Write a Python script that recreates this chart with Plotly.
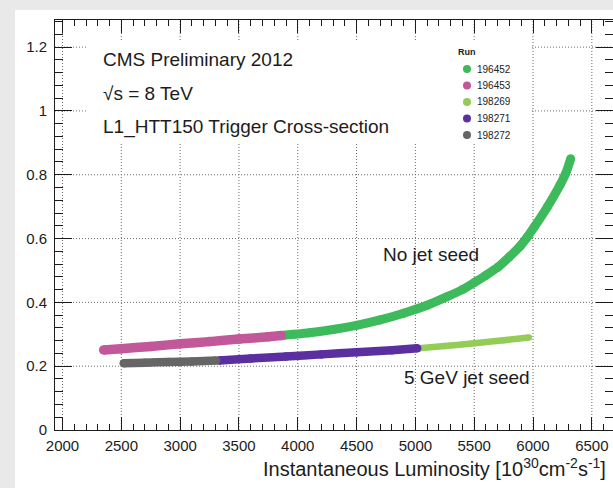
import plotly.graph_objects as go

# ---- trigger cross-section per run (instantaneous luminosity in 1e30 cm^-2 s^-1) ----
runs = ["196452", "196453", "198269", "198271", "198272"]
run_colors = ["#3dba5b", "#c2579a", "#94cc58", "#5b2f9f", "#666666"]

# No jet seed
lumi_196453 = [2350, 2500, 2750, 3000, 3250, 3500, 3750, 3860]
xsec_196453 = [0.251, 0.255, 0.262, 0.270, 0.277, 0.285, 0.292, 0.296]

lumi_196452 = [3880, 4100, 4300, 4500, 4700, 4900, 5100, 5270, 5400, 5500,
               5600, 5700, 5800, 5890, 5950, 6010, 6120, 6230, 6280, 6320]
xsec_196452 = [0.297, 0.305, 0.315, 0.328, 0.345, 0.366, 0.391, 0.418, 0.440, 0.462,
               0.485, 0.510, 0.543, 0.576, 0.604, 0.636, 0.698, 0.768, 0.806, 0.850]

# 5 GeV jet seed
lumi_198272 = [2520, 2700, 2900, 3100, 3305]
xsec_198272 = [0.209, 0.211, 0.213, 0.215, 0.218]

lumi_198271 = [3330, 3600, 3900, 4200, 4500, 4800, 5015]
xsec_198271 = [0.218, 0.224, 0.230, 0.237, 0.244, 0.250, 0.256]

lumi_198269 = [5030, 5250, 5500, 5750, 5965]
xsec_198269 = [0.256, 0.263, 0.272, 0.281, 0.290]

# major tick positions (labels and dotted grid)
x_ticks = [2000, 2500, 3000, 3500, 4000, 4500, 5000, 5500, 6000, 6500]
y_ticks = [0, 0.2, 0.4, 0.6, 0.8, 1.0, 1.2]

W, H = 613, 488
L, R, T, B = 55, 0, 20, 58
PW, PH = W - L - R, H - T - B
FONT = "Liberation Sans, Arial, Helvetica, sans-serif"
INK = "#1c1c1c"
GRID = "#6a6a6a"


def px(xpix):
    return (xpix - L) / PW


def py(ypix):
    return (T + PH - ypix) / PH


fig = go.Figure()

series = [
    # (run, x, y, width) -- right-hand pieces first so the left piece caps the joint
    ("196452", lumi_196452, xsec_196452, 9),
    ("198269", lumi_198269, xsec_198269, 6.5),
    ("196453", lumi_196453, xsec_196453, 9.5),
    ("198271", lumi_198271, xsec_198271, 8.5),
    ("198272", lumi_198272, xsec_198272, 8.5),
]
for run, xs, ys, w in series:
    c = run_colors[runs.index(run)]
    fig.add_trace(go.Scatter(
        x=xs, y=ys, mode="lines+markers", name=run, showlegend=False,
        line=dict(color=c, width=w, shape="spline", smoothing=0.5),
        marker=dict(color=c, size=w, line=dict(width=0)),
        hoverinfo="skip",
    ))

axis_common = dict(
    showline=True, linecolor=INK, linewidth=1, mirror="allticks",
    ticks="inside", tickcolor=INK, tickwidth=1,
    showgrid=False, zeroline=False,
    tickfont=dict(family=FONT, size=15, color=INK),
)

fig.update_xaxes(
    range=[1936, 6680], tickmode="array", tickvals=x_ticks, ticklen=13,
    minor=dict(dtick=100, tick0=2000, ticks="inside", ticklen=6, tickcolor=INK),
    ticklabelstandoff=2,
    **axis_common,
)
fig.update_yaxes(
    range=[0, 1.285], tickmode="array", tickvals=y_ticks,
    ticktext=["0", "0.2", "0.4", "0.6", "0.8", "1", "1.2"], ticklen=17,
    minor=dict(dtick=0.04, tick0=0, ticks="inside", ticklen=8, tickcolor=INK),
    ticklabelstandoff=4,
    **axis_common,
)

shapes = []
# fine dotted grid at the major ticks
grid_line = dict(color=GRID, width=1, dash="1px,2px")
for xv in x_ticks:
    shapes.append(dict(type="line", xref="x", yref="paper", x0=xv, x1=xv, y0=0, y1=1,
                       layer="below", line=grid_line))
for yv in y_ticks[1:]:
    shapes.append(dict(type="line", xref="paper", yref="y", x0=0, x1=1, y0=yv, y1=yv,
                       layer="below", line=grid_line))

# opaque box behind the caption block and run legend
shapes.append(dict(type="rect", xref="paper", yref="paper", layer="below",
                   x0=px(87), x1=px(531), y0=py(144), y1=py(42),
                   fillcolor="white", line=dict(width=0)))

annotations = []


def text(xpix, ypix, s, size=19, **kw):
    annotations.append(dict(
        x=px(xpix), y=py(ypix), xref="paper", yref="paper", text=s,
        showarrow=False, xanchor="left", yanchor="middle",
        font=dict(family=FONT, size=size, color=INK), **kw))


text(101, 60, "CMS Preliminary 2012")
text(101, 93, "√s = 8 TeV")
text(101, 127, "L1_HTT150 Trigger Cross-section")
text(381, 254, "No jet seed")
text(402, 377, "5 GeV jet seed")
text(261, 467, "Instantaneous Luminosity [10<sup>30</sup>cm<sup>-2</sup>s<sup>-1</sup>]", size=20)

# run legend
text(456, 52, "<b>Run</b>", size=9)
leg_y = [69, 85.5, 102, 118.5, 135]
for run, c, yy in zip(runs, run_colors, leg_y):
    shapes.append(dict(
        type="circle", xref="paper", yref="paper",
        xsizemode="pixel", ysizemode="pixel",
        xanchor=px(467), yanchor=py(yy), x0=-4, x1=4, y0=-4, y1=4,
        fillcolor=c, line=dict(width=0)))
    text(475, yy, run, size=10)

# page margin strips
shapes.append(dict(type="rect", xref="paper", yref="paper", layer="below",
                   x0=px(-5), x1=px(15), y0=py(H + 5), y1=py(-5),
                   fillcolor="#e9e9e9", line=dict(width=0)))
shapes.append(dict(type="rect", xref="paper", yref="paper", layer="below",
                   x0=px(-5), x1=px(W + 5), y0=py(10), y1=py(-5),
                   fillcolor="#e9e9e9", line=dict(width=0)))

fig.update_layout(
    width=W, height=H, autosize=False,
    margin=dict(l=L, r=R, t=T, b=B, pad=0),
    paper_bgcolor="white", plot_bgcolor="white",
    showlegend=False,
    annotations=annotations, shapes=shapes,
    font=dict(family=FONT, color=INK),
)

fig.write_html("out.html")
